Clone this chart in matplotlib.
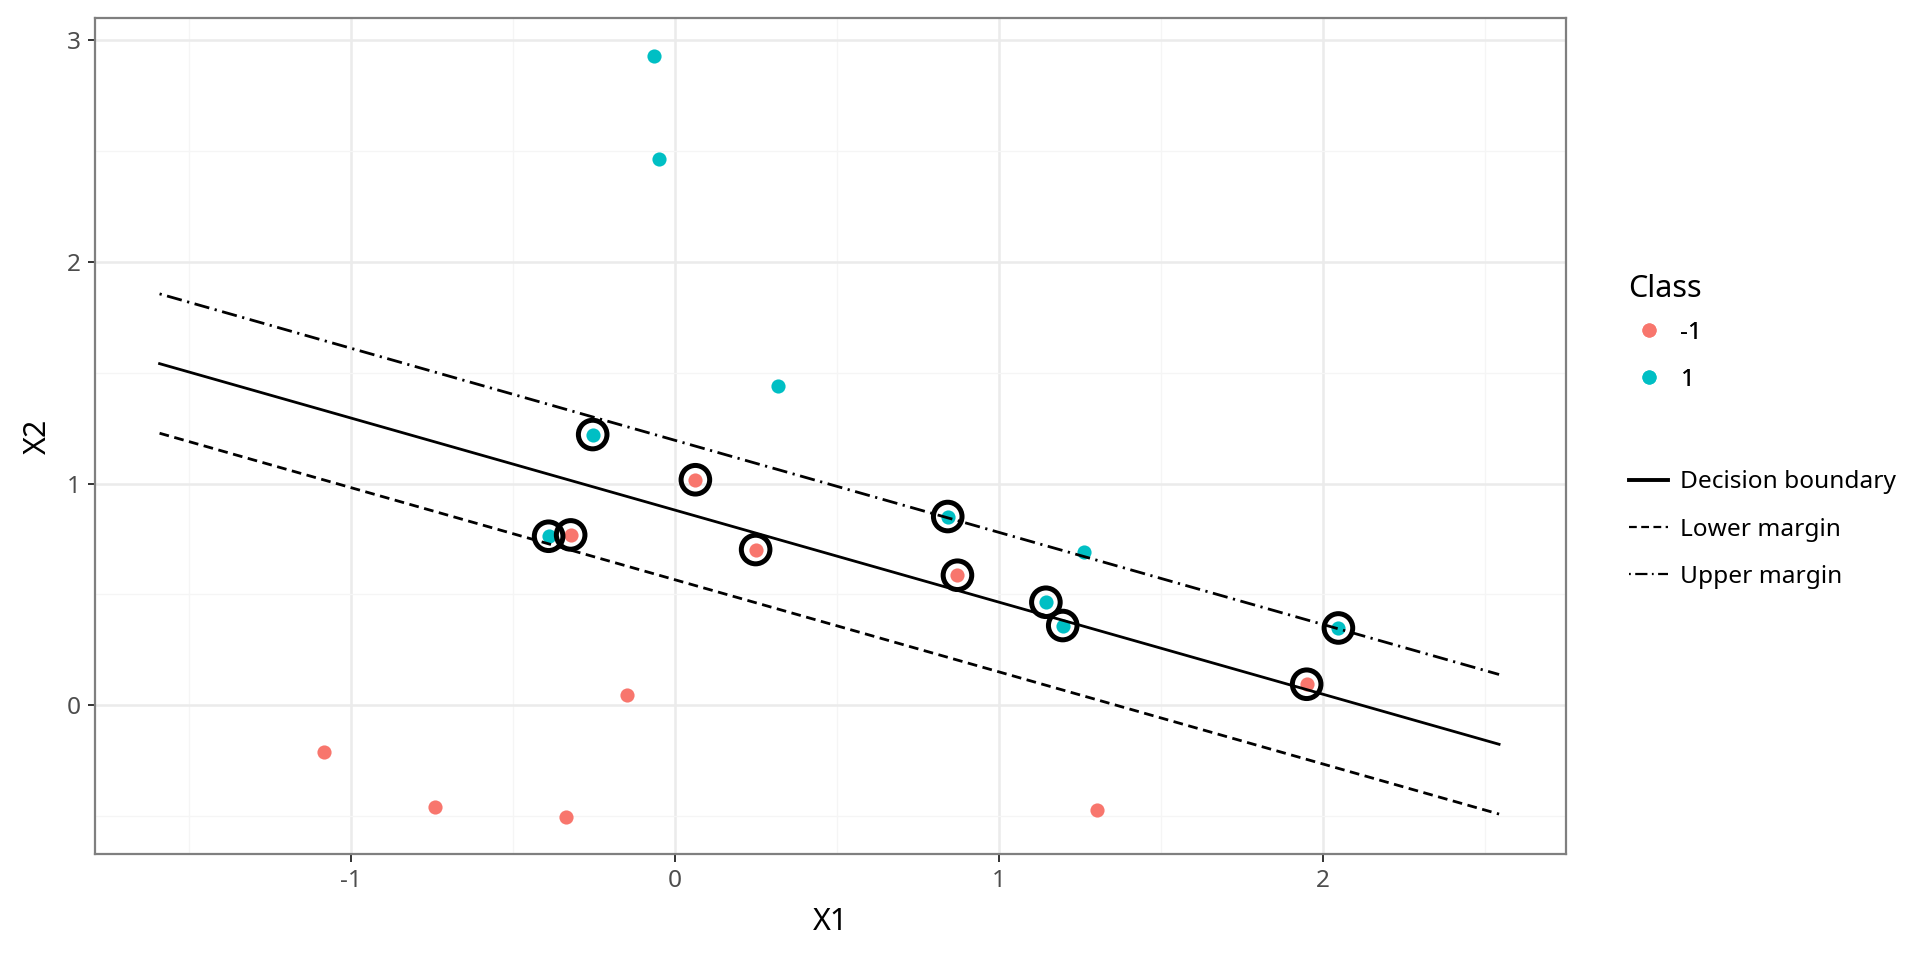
import matplotlib.pyplot as plt
from matplotlib.lines import Line2D

plt.rcParams['font.family'] = ['Noto Sans', 'DejaVu Sans']
plt.rcParams['axes.unicode_minus'] = False

# points
neg_x = [0.064, -0.321, 0.250, 0.873, 1.951, -0.147, -1.081, -0.741, -0.336, 1.304]
neg_y = [1.017, 0.768, 0.702, 0.586, 0.094, 0.044, -0.210, -0.459, -0.503, -0.475]
pos_x = [-0.064, -0.049, 0.318, -0.253, -0.389, 0.843, 1.263, 1.146, 1.198, 2.049]
pos_y = [2.928, 2.464, 1.442, 1.221, 0.762, 0.851, 0.691, 0.464, 0.359, 0.348]

# support vectors (circled)
sv_x = [0.064, -0.321, 0.250, 0.873, 1.951, -0.253, -0.389, 0.843, 1.146, 1.198, 2.049]
sv_y = [1.017, 0.768, 0.702, 0.586, 0.094, 1.221, 0.762, 0.851, 0.464, 0.359, 0.348]

# decision boundary and margins (end points)
line_x = [-1.59, 2.545]
boundary_y = [1.541, -0.177]
lower_y = [1.227, -0.492]
upper_y = [1.856, 0.138]

red = '#F8766D'
cyan = '#00BFC4'
dash_lower = (3.5, 2.0)
dash_upper = (0.8, 2.0, 5.5, 2.0)

fig = plt.figure(figsize=(9.6, 4.8), dpi=200)
ax = fig.add_axes([0.0497, 0.110, 0.766, 0.871])

ax.set_xlim(-1.788, 2.752)
ax.set_ylim(-0.674, 3.10)

ax.set_xticks([-1, 0, 1, 2])
ax.set_yticks([0, 1, 2, 3])
ax.set_xticks([-1.5, -0.5, 0.5, 1.5, 2.5], minor=True)
ax.set_yticks([-0.5, 0.5, 1.5, 2.5], minor=True)
ax.grid(which='major', color='#EBEBEB', linewidth=0.9, zorder=0)
ax.grid(which='minor', color='#F5F5F5', linewidth=0.45, zorder=0)
ax.set_axisbelow(True)
ax.tick_params(which='minor', length=0)
ax.tick_params(which='major', length=2.7, width=0.7, color='#333333',
               labelsize=8.8, labelcolor='#4D4D4D', pad=2.5)
for s in ax.spines.values():
    s.set_color('#7F7F7F')
    s.set_linewidth(0.8)

ax.scatter(neg_x, neg_y, s=26, color=red, linewidths=0, zorder=3)
ax.scatter(pos_x, pos_y, s=26, color=cyan, linewidths=0, zorder=3)

ax.plot(line_x, boundary_y, color='black', linewidth=1.0, zorder=4)
ax.plot(line_x, lower_y, color='black', linewidth=1.0, dashes=dash_lower, zorder=4)
ax.plot(line_x, upper_y, color='black', linewidth=1.0, dashes=dash_upper, zorder=4)

ax.scatter(sv_x, sv_y, s=106, facecolors='none', edgecolors='black', linewidths=1.8, zorder=5)

ax.set_xlabel('X1', fontsize=11, labelpad=5)
ax.set_ylabel('X2', fontsize=11, labelpad=5)

# legend for the class colours, title placed separately
fig.text(0.848, 0.699, 'Class', fontsize=11, ha='left', va='center')
class_handles = [
    Line2D([], [], marker='o', linestyle='none', markersize=5.1, color=red, markeredgewidth=0),
    Line2D([], [], marker='o', linestyle='none', markersize=5.1, color=cyan, markeredgewidth=0),
]
leg1 = fig.legend(class_handles, ['-1', '1'], loc='upper left',
                  bbox_to_anchor=(0.837, 0.689), frameon=False, fontsize=8.8,
                  handlelength=1.6, handletextpad=0.5, labelspacing=0.95)

line_handles = [
    Line2D([], [], color='black', linewidth=1.4),
    Line2D([], [], color='black', linewidth=0.8, dashes=dash_lower),
    Line2D([], [], color='black', linewidth=0.8, dashes=dash_upper),
]
leg2 = fig.legend(line_handles, ['Decision boundary', 'Lower margin', 'Upper margin'],
                  loc='upper left', bbox_to_anchor=(0.837, 0.533), frameon=False,
                  fontsize=8.8, handlelength=1.6, handletextpad=0.5, labelspacing=0.95)
fig.add_artist(leg1)

fig.savefig('out.png', dpi=200)
